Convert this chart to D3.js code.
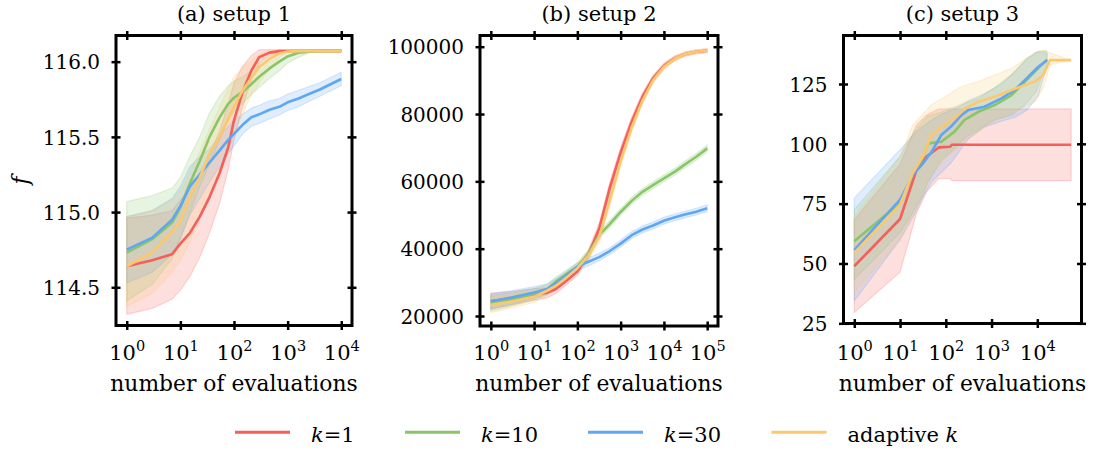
<!DOCTYPE html>
<html><head><meta charset="utf-8">
<script src="https://cdn.jsdelivr.net/npm/d3@7"></script>
<style>
body{margin:0;background:#fff}
svg{display:block}
text{font-family:'DejaVu Serif',serif;fill:#000}
</style>
</head><body>
<svg id="c" width="1097" height="453"></svg>
<script>
// ---------- legend / series ----------
const seriesNames = [["k", "=1"], ["k", "=10"], ["k", "=30"], ["adaptive ", "k"]];
const seriesColors = ["#f45f5b", "#89c668", "#5fa6f5", "#fcc86e"];

// ---------- panel (a) setup 1 ----------
const p1X = [1,3,7,10,15,23,35,54,78,100,145,210,295,460,700,1000,1600,2500,4000,6300,10000];
const p1RedMean = [114.64,114.68,114.72,114.79,114.86,114.97,115.10,115.26,115.43,115.61,115.80,115.94,116.03,116.06,116.07,116.07,116.07,116.07,116.07,116.07,116.07];
const p1RedLo   = [114.32,114.36,114.42,114.48,114.57,114.70,114.86,115.06,115.28,115.48,115.70,115.88,115.99,116.04,116.06,116.07,116.07,116.07,116.07,116.07,116.07];
const p1RedHi   = [114.96,114.98,115.01,115.08,115.16,115.26,115.38,115.54,115.72,115.86,115.97,116.04,116.08,116.08,116.08,116.08,116.08,116.08,116.08,116.08,116.08];
const p1GreenMean = [114.73,114.82,114.93,115.03,115.19,115.34,115.50,115.63,115.72,115.76,115.80,115.85,115.90,115.955,116.0,116.035,116.06,116.067,116.07,116.07,116.07];
const p1GreenLo   = [114.41,114.52,114.69,114.83,114.99,115.17,115.32,115.48,115.61,115.67,115.72,115.78,115.83,115.89,115.94,115.99,116.03,116.06,116.07,116.07,116.07];
const p1GreenHi   = [115.07,115.11,115.16,115.23,115.37,115.50,115.66,115.77,115.84,115.87,115.90,115.94,115.98,116.02,116.05,116.075,116.08,116.08,116.08,116.08,116.08];
const p1BlueMean = [114.75,114.83,114.95,115.04,115.17,115.25,115.33,115.41,115.48,115.52,115.58,115.63,115.65,115.68,115.70,115.73,115.755,115.785,115.815,115.85,115.885];
const p1BlueLo   = [114.53,114.60,114.72,114.82,114.98,115.09,115.20,115.30,115.39,115.44,115.52,115.57,115.59,115.62,115.645,115.675,115.70,115.735,115.77,115.805,115.84];
const p1BlueHi   = [114.97,115.01,115.09,115.17,115.30,115.37,115.42,115.50,115.57,115.61,115.65,115.69,115.71,115.74,115.755,115.785,115.81,115.835,115.86,115.895,115.93];
const p1OrangeMean = [114.64,114.73,114.87,114.94,115.10,115.23,115.39,115.50,115.62,115.70,115.81,115.89,115.965,116.02,116.055,116.067,116.07,116.07,116.07,116.07,116.07];
const p1OrangeLo   = [114.37,114.46,114.60,114.68,114.80,114.95,115.10,115.25,115.40,115.52,115.65,115.78,115.86,115.95,116.03,116.06,116.07,116.07,116.07,116.07,116.07];
const p1OrangeHi   = [114.97,115.01,115.08,115.14,115.26,115.40,115.55,115.70,115.82,115.90,115.96,116.01,116.05,116.075,116.078,116.075,116.075,116.075,116.075,116.075,116.075];
const p1YTicks = [114.5, 115.0, 115.5, 116.0];
const p1XTicks = [1, 10, 100, 1000, 10000];

// ---------- panel (b) setup 2 ----------
const p2X = [1,3,10,20,32,56,100,180,320,560,1000,1800,3200,5600,10000,18000,32000,56000,100000];
const p2RedMean = [24400,25300,26400,26900,28000,30500,33200,38300,46000,58000,68500,77700,85150,90600,94300,96600,97900,98500,98800];
const p2RedLo   = [22100,23300,24700,25400,26700,29300,32000,37000,44400,56300,66900,76300,84050,89700,93500,95900,97300,97900,98200];
const p2RedHi   = [26700,27300,28100,28400,29300,31700,34400,39600,47600,59700,70100,79100,86250,91500,95100,97300,98500,99100,99400];
const p2GreenMean = [23800,24900,26500,27900,30300,32500,34650,38400,44100,47300,50900,54200,56900,58900,60900,62900,65200,67300,69800];
const p2GreenLo   = [21500,22900,24800,26400,29000,31300,33450,37200,43000,46300,49900,53200,55900,57900,59900,61900,64200,66300,68800];
const p2GreenHi   = [26100,26900,28200,29400,31600,33700,35850,39600,45200,48300,51900,55200,57900,59900,61900,63900,66200,68300,70800];
const p2BlueMean = [24400,25500,27000,28000,29800,32000,34650,36100,37500,39300,41500,44000,45700,46900,48300,49300,50200,51000,52000];
const p2BlueLo   = [22100,23500,25300,26500,28500,30800,33450,34900,36400,38300,40500,43000,44700,45900,47300,48300,49200,50000,51000];
const p2BlueHi   = [26700,27500,28700,29500,31100,33200,35850,37300,38600,40300,42500,45000,46700,47900,49300,50300,51200,52000,53000];
const p2OrangeMean = [23300,24300,25700,27500,29000,31400,34200,37900,43500,54300,66000,76000,84000,90000,94000,96500,97900,98500,98800];
const p2OrangeLo   = [21000,22300,24000,26000,27700,30200,33000,36600,41900,52600,64400,74600,82900,89100,93200,95800,97300,97900,98200];
const p2OrangeHi   = [25600,26300,27400,29000,30300,32600,35400,39200,45100,56000,67600,77400,85100,90900,94800,97200,98500,99100,99400];
const p2YTicks = [20000, 40000, 60000, 80000, 100000];
const p2XTicks = [1, 10, 100, 1000, 10000, 100000];

// ---------- panel (c) setup 3 ----------
const p3RedX    = [1,10,23,38,70,125,135,55000];
const p3RedMean = [48.9,68.6,89.2,94.7,98.5,98.8,99.6,99.6];
const p3RedLo   = [29.5,46.4,71,80,85.5,85.5,84.6,84.6];
const p3RedHi   = [68.3,91.5,108,112,114.6,114.6,114.6,114.6];
const p3GreenX    = [1,10,20,30,41,80,155,257,513,1175,2750,5370,9550,15850];
const p3GreenMean = [59.3,75.3,88,93.5,100.2,100.9,105.1,110,113.4,116.2,120.4,126,130.8,135];
const p3GreenLo   = [43.3,62.8,72,78,84,93,98,102.4,106,110,112,116.2,122,133];
const p3GreenHi   = [72.5,94.7,105,109,111.5,113.4,115.5,117,119,123.5,129,135,138.5,139];
const p3BlueX    = [1,10,20,30,49,80,130,220,310,700,1650,3200,5900,10500,16600];
const p3BlueMean = [55.6,76.7,87.5,91.2,96.7,103.7,107.2,112.0,114.1,115.5,119.0,122.5,127.4,132.2,135];
const p3BlueLo   = [34.3,60,70,77,84,88,92,98,102,107,109.5,111,114,120,133.5];
const p3BlueHi   = [77.4,97.5,104,107,110,112.5,114,116,118,121,125,130,135.5,138.5,138];
const p3OrangeX    = [1,10,19,30,49,95,186,263,513,1175,2750,5370,8900,13500,19000,55000];
const p3OrangeMean = [54.4,74.6,87.8,94,103.7,107.9,112,114.8,117.6,119.7,122.5,124.6,126,128.8,135,135];
const p3OrangeLo   = [37.8,60,70,78,88,94,98.1,101.5,105.1,110,113.4,115.5,117.6,123.2,133,135];
const p3OrangeHi   = [69.7,94.7,108,112,116.5,119.7,123.2,124.5,126,128.8,131.6,135.5,138,139.2,138,135];
const p3YTicks = [25, 50, 75, 100, 125];
const p3XTicks = [1, 10, 100, 1000, 10000];

const titles = ["(a) setup 1", "(b) setup 2", "(c) setup 3"];
const xLabel = "number of evaluations";

// ---------- build ----------
function rows(xs, m, lo, hi) { return xs.map((v, i) => ({x: v, m: m[i], lo: lo[i], hi: hi[i]})); }

const panels = [
  {left:116, right:352, top:35.5, bottom:325.5, xdom:[Math.pow(10,-0.2), Math.pow(10,4.2)], ydom:[114.246,116.174],
   yticks:p1YTicks, xticks:p1XTicks, yfmt:d3.format(".1f"),
   series:[rows(p1X,p1RedMean,p1RedLo,p1RedHi), rows(p1X,p1GreenMean,p1GreenLo,p1GreenHi),
           rows(p1X,p1BlueMean,p1BlueLo,p1BlueHi), rows(p1X,p1OrangeMean,p1OrangeLo,p1OrangeHi)]},
  {left:480, right:718, top:35.5, bottom:326, xdom:[Math.pow(10,-0.25), Math.pow(10,5.25)], ydom:[17028,103327],
   yticks:p2YTicks, xticks:p2XTicks, yfmt:d3.format("d"),
   series:[rows(p2X,p2RedMean,p2RedLo,p2RedHi), rows(p2X,p2GreenMean,p2GreenLo,p2GreenHi),
           rows(p2X,p2BlueMean,p2BlueLo,p2BlueHi), rows(p2X,p2OrangeMean,p2OrangeLo,p2OrangeHi)]},
  {left:843.5, right:1081.5, top:35.5, bottom:323.5, xdom:[Math.pow(10,-0.236), Math.pow(10,4.966)], ydom:[24.92,145.27],
   yticks:p3YTicks, xticks:p3XTicks, yfmt:d3.format("d"),
   series:[rows(p3RedX,p3RedMean,p3RedLo,p3RedHi), rows(p3GreenX,p3GreenMean,p3GreenLo,p3GreenHi),
           rows(p3BlueX,p3BlueMean,p3BlueLo,p3BlueHi), rows(p3OrangeX,p3OrangeMean,p3OrangeLo,p3OrangeHi)]}
];

const svg = d3.select("#c");

panels.forEach((p, pi) => {
  const x = d3.scaleLog().domain(p.xdom).range([p.left, p.right]);
  const y = d3.scaleLinear().domain(p.ydom).range([p.bottom, p.top]);
  const g = svg.append("g");

  // bands
  const area = d3.area().x(d => x(d.x)).y0(d => y(d.lo)).y1(d => y(d.hi));
  p.series.forEach((s, si) => {
    g.append("path").datum(s).attr("d", area)
      .attr("fill", seriesColors[si]).attr("fill-opacity", 0.2)
      .attr("stroke", seriesColors[si]).attr("stroke-opacity", 0.22).attr("stroke-width", 1.2);
  });
  // lines
  const line = d3.line().x(d => x(d.x)).y(d => y(d.m));
  p.series.forEach((s, si) => {
    g.append("path").datum(s).attr("d", line)
      .attr("fill", "none").attr("stroke", seriesColors[si]).attr("stroke-width", 2.6)
      .attr("stroke-linejoin", "round");
  });

  // axes
  const fix = sel => { sel.select(".domain").remove(); sel.attr("font-family", null).attr("font-size", null); };
  const gb = g.append("g").attr("transform", `translate(0,${p.bottom})`)
    .call(d3.axisBottom(x).tickValues(p.xticks).tickSize(4.5).tickFormat(() => ""));
  fix(gb);
  gb.selectAll(".tick line").attr("y1", -4.5).attr("y2", 4.5).attr("stroke-width", 2.5).attr("stroke", "#000");
  gb.selectAll(".tick text").each(function(d) {
    const t = d3.select(this);
    t.text(null).attr("y", 359.5 - p.bottom).attr("dy", null).attr("font-size", 21).attr("fill", "#000");
    t.append("tspan").text("10");
    t.append("tspan").attr("dy", -9).attr("font-size", 14.5).text(Math.round(Math.log10(d)));
  });

  const gt = g.append("g").attr("transform", `translate(0,${p.top})`)
    .call(d3.axisTop(x).tickValues(p.xticks).tickSize(4.5).tickFormat(() => ""));
  fix(gt);
  gt.selectAll(".tick line").attr("y1", -4.5).attr("y2", 4.5).attr("stroke-width", 2.5).attr("stroke", "#000");

  const gl = g.append("g").attr("transform", `translate(${p.left},0)`)
    .call(d3.axisLeft(y).tickValues(p.yticks).tickSize(4.5).tickPadding(11.5).tickFormat(p.yfmt));
  fix(gl);
  gl.selectAll(".tick line").attr("x1", -4.5).attr("x2", 4.5).attr("stroke-width", 2.5).attr("stroke", "#000");
  gl.selectAll(".tick text").attr("font-size", 20).attr("dy", "0.36em").attr("fill", "#000");

  const gr = g.append("g").attr("transform", `translate(${p.right},0)`)
    .call(d3.axisRight(y).tickValues(p.yticks).tickSize(4.5).tickFormat(() => ""));
  fix(gr);
  gr.selectAll(".tick line").attr("x1", -4.5).attr("x2", 4.5).attr("stroke-width", 2.5).attr("stroke", "#000");

  // frame
  g.append("rect").attr("x", p.left).attr("y", p.top)
    .attr("width", p.right - p.left).attr("height", p.bottom - p.top)
    .attr("fill", "none").attr("stroke", "#000").attr("stroke-width", 3);

  // title & x label
  const cx = (p.left + p.right) / 2;
  g.append("text").attr("x", cx).attr("y", 21).attr("text-anchor", "middle").attr("font-size", 21).text(titles[pi]);
  g.append("text").attr("x", cx).attr("y", 391).attr("text-anchor", "middle").attr("font-size", 21.8).text(xLabel);
});

// y label
svg.append("text").attr("transform", `translate(28,180.5) rotate(-90)`)
  .attr("text-anchor", "middle").attr("font-size", 22).attr("font-style", "italic").text("f");

// legend
const legX = [235, 405, 588, 771.5];
const leg = svg.append("g");
seriesNames.forEach((nm, i) => {
  leg.append("line").attr("x1", legX[i]).attr("x2", legX[i] + 55).attr("y1", 432.3).attr("y2", 432.3)
    .attr("stroke", seriesColors[i]).attr("stroke-width", 3);
  const t = leg.append("text").attr("x", legX[i] + 76).attr("y", 441.7).attr("font-size", 21);
  if (i < 3) {
    t.append("tspan").attr("font-style", "italic").text(nm[0]);
    t.append("tspan").text(nm[1]);
  } else {
    t.append("tspan").text(nm[0]);
    t.append("tspan").attr("font-style", "italic").text(nm[1]);
  }
});
</script>
</body></html>
